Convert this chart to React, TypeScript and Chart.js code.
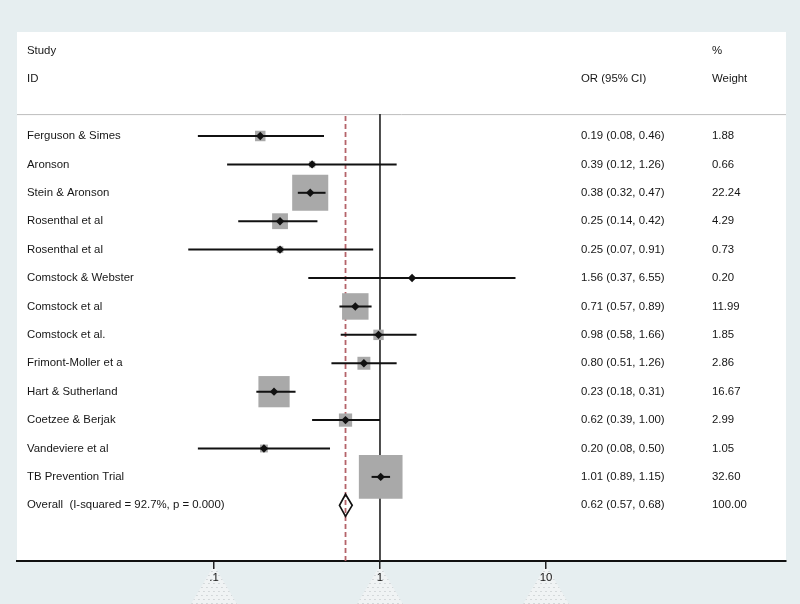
import React, { useEffect, useRef } from "react";
import { Chart, registerables } from "chart.js";

Chart.register(...registerables);

const studies = [
  "Ferguson & Simes",
  "Aronson",
  "Stein & Aronson",
  "Rosenthal et al",
  "Rosenthal et al",
  "Comstock & Webster",
  "Comstock et al",
  "Comstock et al.",
  "Frimont-Moller et a",
  "Hart & Sutherland",
  "Coetzee & Berjak",
  "Vandeviere et al",
  "TB Prevention Trial",
];
const oddsRatio = [0.19, 0.39, 0.38, 0.25, 0.25, 1.56, 0.71, 0.98, 0.8, 0.23, 0.62, 0.2, 1.01];
const ciLow = [0.08, 0.12, 0.32, 0.14, 0.07, 0.37, 0.57, 0.58, 0.51, 0.18, 0.39, 0.08, 0.89];
const ciHigh = [0.46, 1.26, 0.47, 0.42, 0.91, 6.55, 0.89, 1.66, 1.26, 0.31, 1.0, 0.5, 1.15];
const weights = [1.88, 0.66, 22.24, 4.29, 0.73, 0.2, 11.99, 1.85, 2.86, 16.67, 2.99, 1.05, 32.6];

const overallLabel = "Overall  (I-squared = 92.7%, p = 0.000)";
const overallOR = 0.62;
const overallLow = 0.57;
const overallHigh = 0.68;
const overallWeight = 100.0;

const xTicks = [0.1, 1, 10];
const xTickLabels = [".1", "1", "10"];

const FONT = "11.4px 'Liberation Sans', Arial, Helvetica, sans-serif";
const TEXT = "#161616";

const fmt = (v: number) => v.toFixed(2);

const forestPlugin = {
  id: "forest",
  beforeDraw(chart: any) {
    const { ctx, chartArea, scales } = chart;
    const W = chart.width;
    const H = chart.height;
    ctx.save();
    ctx.fillStyle = "#e6eef0";
    ctx.fillRect(0, 0, W, H);
    ctx.fillStyle = "#ffffff";
    ctx.fillRect(chartArea.left, chartArea.top, chartArea.right - chartArea.left, chartArea.bottom - chartArea.top);
    // faint dotted triangles below tick labels
    const xs = scales.x;
    xTicks.forEach((t) => {
      const px = xs.getPixelForValue(t);
      ctx.beginPath();
      ctx.moveTo(px, chartArea.bottom + 4);
      ctx.lineTo(px + 23, H);
      ctx.lineTo(px - 23, H);
      ctx.closePath();
      ctx.fillStyle = "#f0f3f4";
      ctx.fill();
      ctx.save();
      ctx.clip();
      ctx.fillStyle = "#b8bec0";
      for (let yy = chartArea.bottom + 6; yy < H; yy += 4) {
        const off = ((yy / 4) % 2) * 2;
        for (let xx = px - 24 + off; xx < px + 24; xx += 5) {
          ctx.fillRect(xx, yy, 1, 1);
        }
      }
      ctx.restore();
    });
    ctx.restore();
  },
  beforeDatasetsDraw(chart: any) {
    const { ctx, chartArea, scales } = chart;
    const xs = scales.x;
    const ys = scales.y;
    const lineY = ys.getPixelForValue(-0.77);
    ctx.save();
    // header separator
    ctx.strokeStyle = "#bdbdbd";
    ctx.lineWidth = 1;
    ctx.beginPath();
    ctx.moveTo(chartArea.left, lineY + 0.5);
    ctx.lineTo(chartArea.right, lineY + 0.5);
    ctx.stroke();
    // null line at 1
    const x1 = xs.getPixelForValue(1);
    ctx.strokeStyle = "#2e2e2e";
    ctx.lineWidth = 1.7;
    ctx.beginPath();
    ctx.moveTo(x1, lineY);
    ctx.lineTo(x1, chartArea.bottom);
    ctx.stroke();
    // overall effect dashed line
    const xo = xs.getPixelForValue(overallOR);
    ctx.strokeStyle = "#b5636a";
    ctx.lineWidth = 1.8;
    ctx.setLineDash([5, 3]);
    ctx.beginPath();
    ctx.moveTo(xo, lineY + 2);
    ctx.lineTo(xo, chartArea.bottom);
    ctx.stroke();
    ctx.setLineDash([]);
    // texts
    ctx.font = FONT;
    ctx.fillStyle = TEXT;
    ctx.textBaseline = "middle";
    ctx.textAlign = "left";
    const colStudy = chartArea.left + 10;
    const colOR = 581;
    const colW = 712;
    ctx.fillText("Study", colStudy, ys.getPixelForValue(-3));
    ctx.fillText("ID", colStudy, ys.getPixelForValue(-2));
    ctx.fillText("OR (95% CI)", colOR, ys.getPixelForValue(-2));
    ctx.fillText("%", colW, ys.getPixelForValue(-3));
    ctx.fillText("Weight", colW, ys.getPixelForValue(-2));
    studies.forEach((s, i) => {
      const py = ys.getPixelForValue(i);
      ctx.fillText(s, colStudy, py);
      ctx.fillText(`${fmt(oddsRatio[i])} (${fmt(ciLow[i])}, ${fmt(ciHigh[i])})`, colOR, py);
      ctx.fillText(fmt(weights[i]), colW, py);
    });
    const oy = ys.getPixelForValue(studies.length);
    ctx.fillText(overallLabel, colStudy, oy);
    ctx.fillText(`${fmt(overallOR)} (${fmt(overallLow)}, ${fmt(overallHigh)})`, colOR, oy);
    ctx.fillText(fmt(overallWeight), colW, oy);
    ctx.restore();
  },
  afterDatasetsDraw(chart: any) {
    const { ctx, scales } = chart;
    const xs = scales.x;
    const ys = scales.y;
    const oy = ys.getPixelForValue(studies.length);
    const xl = xs.getPixelForValue(overallLow);
    const xc = xs.getPixelForValue(overallOR);
    const xh = xs.getPixelForValue(overallHigh);
    ctx.save();
    ctx.strokeStyle = "#111";
    ctx.lineWidth = 1.7;
    ctx.beginPath();
    ctx.moveTo(xl, oy);
    ctx.lineTo(xc, oy - 11);
    ctx.lineTo(xh, oy);
    ctx.lineTo(xc, oy + 11);
    ctx.closePath();
    ctx.stroke();
    ctx.restore();
  },
};

export default function App() {
  const ref = useRef<HTMLCanvasElement | null>(null);
  useEffect(() => {
    if (!ref.current) return;
    const squareSide = (w: number) => 7.65 * Math.sqrt(w);
    const ciDatasets = studies.map((_, i) => ({
      type: "line" as const,
      data: [
        { x: ciLow[i], y: i },
        { x: ciHigh[i], y: i },
      ],
      borderColor: "#111",
      borderWidth: 2,
      pointRadius: 0,
      showLine: true,
      order: 2,
    }));
    const chart = new Chart(ref.current, {
      type: "scatter",
      data: {
        datasets: [
          {
            data: studies.map((_, i) => ({ x: oddsRatio[i], y: i })),
            pointStyle: "rect",
            pointRadius: weights.map((w) => squareSide(w) / Math.SQRT2),
            backgroundColor: "#a9a9a9",
            borderWidth: 0,
            order: 3,
          } as any,
          ...ciDatasets,
          {
            data: studies.map((_, i) => ({ x: oddsRatio[i], y: i })),
            pointStyle: "rectRot",
            pointRadius: 4.2,
            backgroundColor: "#111",
            borderColor: "#111",
            borderWidth: 0,
            order: 1,
          },
        ],
      },
      options: {
        animation: false,
        responsive: true,
        maintainAspectRatio: false,
        layout: { autoPadding: false, padding: { left: 17, right: 14, top: 32, bottom: 0 } },
        plugins: { legend: { display: false }, tooltip: { enabled: false } },
        events: [],
        scales: {
          x: {
            type: "logarithmic",
            min: 0.00651,
            max: 279,
            afterBuildTicks: (scale: any) => {
              scale.ticks = xTicks.map((v) => ({ value: v }));
            },
            afterFit: (scale: any) => {
              scale.height = 43;
            },
            ticks: {
              autoSkip: false,
              maxRotation: 0,
              padding: 2,
              color: TEXT,
              font: { family: "'Liberation Sans', Arial, sans-serif", size: 11.4 },
              callback: (v: any) => {
                const idx = xTicks.indexOf(Number(v));
                return idx >= 0 ? xTickLabels[idx] : "";
              },
            },
            grid: {
              display: true,
              drawOnChartArea: false,
              drawTicks: true,
              tickLength: 8,
              color: "#222",
              lineWidth: 1.5,
            },
            border: { display: true, color: "#111", width: 2 },
          },
          y: {
            type: "linear",
            reverse: true,
            min: -3.66,
            max: 14.96,
            display: false,
          },
        },
      } as any,
      plugins: [forestPlugin],
    });
    return () => chart.destroy();
  }, []);
  return (
    <div style={{ position: "fixed", left: 0, top: 0, width: 800, height: 604 }}>
      <canvas ref={ref} />
    </div>
  );
}
